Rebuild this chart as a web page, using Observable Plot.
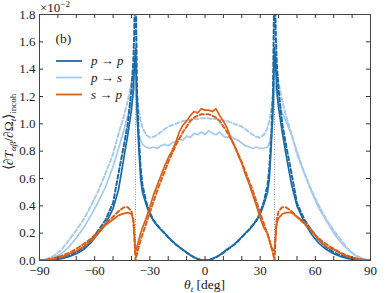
<!DOCTYPE html>
<html><head><meta charset="utf-8">
<script src="https://cdn.jsdelivr.net/npm/d3@7"></script>
<script src="https://cdn.jsdelivr.net/npm/@observablehq/plot@0.6"></script>
<style>body{margin:0;background:#fff} svg{display:block} svg text{font-family:"Liberation Serif","Times New Roman",serif !important}</style>
</head><body><div id="chart"></div>
<script>
// polar angle of transmission (deg)
const theta = [-90,-86,-82,-78,-74,-70,-66,-62,-58,-54,-50,-47,-44,-42,-40,-39,-38.5,-37.8,-37,-36,-35,-34,-32,-30,-28,-26,-24,-22,-20,-18,-16,-14,-12,-10,-8,-6,-4,-2,0,
  2,4,6,8,10,12,14,16,18,20,22,24,26,28,30,32,34,35,36,37,37.8,38.5,39,40,42,44,47,50,54,58,62,66,70,74,78,82,86,90];

// values in units of 1e-2
const ppSim = [0,0.002,0.006,0.014,0.028,0.05,0.08,0.13,0.2,0.27,0.38,0.52,0.76,0.92,1.1,1.25,1.38,1.55,1.12,0.82,0.6,0.5,0.41,0.335,0.29,0.255,0.225,0.2,0.17,0.145,0.12,0.1,0.08,0.06,0.04,0.025,0.012,0.004,0.0,
  0.004,0.013,0.026,0.041,0.061,0.082,0.1,0.118,0.146,0.172,0.2,0.223,0.257,0.292,0.34,0.41,0.5,0.6,0.83,1.14,1.56,1.4,1.27,1.12,0.94,0.78,0.56,0.4,0.28,0.19,0.125,0.08,0.05,0.028,0.014,0.006,0.002,0];
const ppTheory = [0,0.003,0.009,0.02,0.035,0.06,0.095,0.15,0.22,0.3,0.42,0.64,0.85,1.0,1.25,1.45,1.65,2.2,1.25,0.9,0.68,0.55,0.43,0.35,0.295,0.26,0.228,0.2,0.17,0.143,0.118,0.097,0.077,0.057,0.039,0.023,0.011,0.003,0,
  0.003,0.011,0.023,0.039,0.057,0.077,0.097,0.118,0.143,0.17,0.2,0.228,0.26,0.295,0.35,0.43,0.55,0.68,0.9,1.25,2.2,1.65,1.45,1.25,1.0,0.85,0.64,0.42,0.3,0.22,0.15,0.095,0.06,0.035,0.02,0.009,0.003,0];
const psSim = [0,0.008,0.025,0.05,0.1,0.165,0.24,0.33,0.43,0.54,0.69,0.82,0.96,1.06,1.15,1.2,1.25,1.3,1.02,0.93,0.88,0.85,0.83,0.82,0.83,0.82,0.84,0.85,0.84,0.86,0.87,0.89,0.88,0.91,0.9,0.93,0.92,0.94,0.92,
  0.95,0.93,0.92,0.94,0.91,0.9,0.91,0.89,0.88,0.86,0.84,0.83,0.82,0.83,0.82,0.82,0.83,0.86,0.92,1.02,1.3,1.25,1.2,1.15,1.08,1.02,0.92,0.8,0.64,0.5,0.38,0.29,0.2,0.13,0.075,0.035,0.012,0];
const psTheory = [0,0.012,0.035,0.08,0.15,0.22,0.3,0.4,0.51,0.64,0.78,0.93,1.06,1.17,1.3,1.36,1.4,1.45,1.2,1.1,1.02,0.97,0.92,0.9,0.905,0.92,0.94,0.96,0.98,0.99,1.0,1.01,1.02,1.025,1.03,1.035,1.035,1.04,1.04,
  1.04,1.035,1.035,1.03,1.025,1.02,1.01,1.0,0.99,0.98,0.96,0.94,0.92,0.905,0.9,0.92,0.97,1.02,1.1,1.2,1.45,1.4,1.36,1.3,1.17,1.06,0.93,0.78,0.64,0.51,0.4,0.3,0.22,0.15,0.08,0.035,0.012,0];
const spSim = [0,0.004,0.012,0.025,0.045,0.07,0.1,0.14,0.2,0.26,0.3,0.33,0.345,0.35,0.34,0.3,0.2,0.06,0.1,0.15,0.2,0.24,0.31,0.39,0.48,0.55,0.62,0.69,0.75,0.8,0.86,0.94,0.99,1.02,1.06,1.09,1.08,1.11,1.1,
  1.1,1.09,1.11,1.06,1.02,0.97,0.9,0.84,0.77,0.71,0.63,0.56,0.48,0.4,0.31,0.24,0.2,0.15,0.1,0.07,0.09,0.2,0.27,0.31,0.34,0.35,0.35,0.32,0.28,0.22,0.15,0.1,0.08,0.05,0.028,0.013,0.003,0];
const spTheory = [0,0.006,0.017,0.033,0.055,0.085,0.12,0.16,0.21,0.27,0.32,0.36,0.39,0.39,0.36,0.3,0.2,0,0.05,0.1,0.15,0.19,0.27,0.35,0.43,0.51,0.58,0.65,0.72,0.78,0.84,0.89,0.94,0.98,1.02,1.045,1.06,1.07,1.07,
  1.07,1.06,1.045,1.02,0.98,0.94,0.89,0.84,0.78,0.72,0.65,0.58,0.51,0.43,0.35,0.27,0.19,0.15,0.1,0.05,0,0.2,0.3,0.36,0.39,0.39,0.36,0.32,0.27,0.21,0.16,0.12,0.085,0.055,0.033,0.017,0.006,0];

const seriesNames = ["p \u2192 p", "p \u2192 s", "s \u2192 p"];
const seriesColors = ["#1a6aa6", "#a7c9ea", "#d8601a"];
const criticalAngles = [-37.8, 37.8];
const xTicks = [-90,-80,-70,-60,-50,-40,-30,-20,-10,0,10,20,30,40,50,60,70,80,90];
const xLabels = [-90,-60,-30,0,30,60,90];
const yTicks = [0,0.2,0.4,0.6,0.8,1.0,1.2,1.4,1.6,1.8];

const toRows = (vals) => theta.map((t, i) => ({theta: t, value: vals[i]}));

const W = 390, H = 293, mL = 39, mT = 14, mR = 20, mB = 33;
const fw = W - mL - mR, fh = H - mT - mB;
const dash = {strokeWidth: 2, strokeDasharray: "4,2.6"};
const solid = {strokeWidth: 1.7};
const font = "Liberation Serif, Times New Roman, serif";

const plot = Plot.plot({
  width: W, height: H,
  marginLeft: mL, marginTop: mT, marginRight: mR, marginBottom: mB,
  style: {fontFamily: font, fontSize: "13px", color: "#222", background: "#fff"},
  x: {domain: [-90, 90]},
  y: {domain: [0, 1.8]},
  clip: true,
  marks: [
    Plot.ruleX(criticalAngles, {x: d => d, stroke: "#777", strokeWidth: 0.8, strokeDasharray: "1,1.5"}),
    Plot.line(toRows(psTheory), {x: "theta", y: "value", stroke: seriesColors[1], ...dash}),
    Plot.line(toRows(psSim), {x: "theta", y: "value", stroke: seriesColors[1], ...solid}),
    Plot.line(toRows(ppTheory), {x: "theta", y: "value", stroke: seriesColors[0], ...dash}),
    Plot.line(toRows(ppSim), {x: "theta", y: "value", stroke: seriesColors[0], ...solid}),
    Plot.line(toRows(spTheory), {x: "theta", y: "value", stroke: seriesColors[2], ...dash}),
    Plot.line(toRows(spSim), {x: "theta", y: "value", stroke: seriesColors[2], ...solid}),
    Plot.tickX(xTicks, {x: d => d, insetTop: fh - 4, stroke: "#333", clip: false}),
    Plot.tickX(xTicks, {x: d => d, insetBottom: fh - 4, stroke: "#333", clip: false}),
    Plot.tickY(yTicks, {y: d => d, insetRight: fw - 4, stroke: "#333", clip: false}),
    Plot.tickY(yTicks, {y: d => d, insetLeft: fw - 4, stroke: "#333", clip: false}),
    Plot.axisX(xLabels, {tickSize: 0, tickPadding: 5, label: null, fontSize: 13}),
    Plot.axisY(yTicks, {tickSize: 0, tickPadding: 4, label: null, tickFormat: d3.format(".1f"), fontSize: 13}),
    Plot.frame({stroke: "#444", strokeWidth: 1}),
    Plot.text(["(b)"], {frameAnchor: "top-left", dx: 16, dy: 24, textAnchor: "start", lineAnchor: "middle", fontSize: 13.5, fill: "#222"})
  ]
});

const svg = d3.select(plot);

// multiplier
const mult = svg.append("text").attr("x", mL + 1).attr("y", mT - 2).attr("text-anchor", "start").attr("font-size", 13).attr("fill", "#222");
mult.append("tspan").text("\u00d710");
mult.append("tspan").attr("dy", -5).attr("font-size", 9).text("\u22122");

// x label
const xl = svg.append("text").attr("x", mL + fw / 2).attr("y", H - 4).attr("text-anchor", "middle").attr("font-size", 13.5).attr("fill", "#222");
xl.append("tspan").attr("font-style", "italic").text("\u03b8");
xl.append("tspan").attr("font-style", "italic").attr("font-size", 9).attr("dy", 3).text("t");
xl.append("tspan").attr("dy", -3).text(" [deg]");

// y label
const yl = svg.append("text").attr("transform", `translate(13,${mT + fh / 2 - 5}) rotate(-90)`).attr("text-anchor", "middle").attr("font-size", 13.5).attr("fill", "#222");
yl.append("tspan").text("\u27e8\u2202");
yl.append("tspan").attr("font-style", "italic").text("T");
yl.append("tspan").attr("font-style", "italic").attr("font-size", 9).attr("dy", 3).text("\u03b1\u03b2");
yl.append("tspan").attr("dy", -3).text("/\u2202\u03a9");
yl.append("tspan").attr("font-style", "italic").attr("font-size", 9).attr("dy", 3).text("t");
yl.append("tspan").attr("dy", -3).text("\u27e9");
yl.append("tspan").attr("font-size", 9).attr("dy", 3).text("incoh");

// legend
const legY = [61, 77.5, 94.5];
seriesNames.forEach((name, i) => {
  svg.append("line").attr("x1", 56).attr("x2", 82).attr("y1", legY[i]).attr("y2", legY[i]).attr("stroke", seriesColors[i]).attr("stroke-width", 1.8);
  const [a, arrow, b] = name.split(" ");
  const t = svg.append("text").attr("x", 91).attr("y", legY[i] + 4).attr("text-anchor", "start").attr("font-size", 13).attr("fill", "#222");
  t.append("tspan").attr("font-style", "italic").text(a);
  t.append("tspan").text(" " + arrow + " ");
  t.append("tspan").attr("font-style", "italic").text(b);
});

document.getElementById("chart").append(plot);
</script>
</body></html>
